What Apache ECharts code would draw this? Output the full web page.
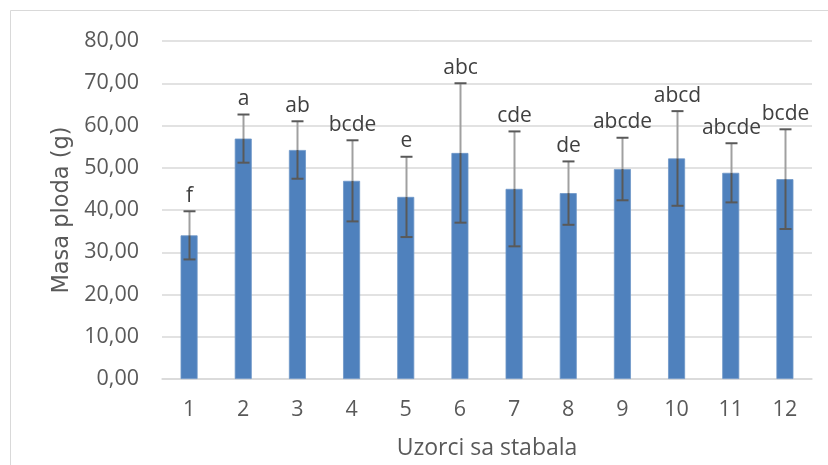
<!DOCTYPE html>
<html>
<head>
<meta charset="utf-8">
<script src="https://cdn.jsdelivr.net/npm/echarts@6/dist/echarts.min.js"></script>
<style>
html,body{margin:0;padding:0;background:#fff;}
#chart{width:828px;height:465px;}
</style>
</head>
<body>
<div id="chart"></div>
<script>
// Data
const categories = ['1','2','3','4','5','6','7','8','9','10','11','12'];
const means = [34.0, 56.9, 54.2, 46.9, 43.1, 53.5, 45.0, 44.0, 49.7, 52.2, 48.8, 47.3];
const sds   = [5.7, 5.7, 6.8, 9.6, 9.5, 16.5, 13.6, 7.5, 7.4, 11.2, 7.0, 11.8];
const letters = ['f','a','ab','bcde','e','abc','cde','de','abcde','abcd','abcde','bcde'];
const yMin = 0, yMax = 80, yStep = 10;

const FONT = '"Open Sans", "Noto Sans", sans-serif';
const errData = categories.map((c, i) => [i, means[i], sds[i]]);

const chart = echarts.init(document.getElementById('chart'));
chart.setOption({
  backgroundColor: '#ffffff',
  animation: false,
  graphic: [{
    type: 'rect',
    shape: { x: 10.5, y: 10.5, width: 900, height: 600 },
    style: { fill: 'none', stroke: '#d9d9d9', lineWidth: 1 },
    silent: true
  }],
  grid: { left: 162, right: 16, top: 41, bottom: 83.5 },
  xAxis: {
    type: 'category',
    data: categories,
    name: 'Uzorci sa stabala',
    nameLocation: 'middle',
    nameGap: 58,
    nameTextStyle: { fontFamily: FONT, fontSize: 23, color: '#595959' },
    axisLine: { lineStyle: { color: '#d9d9d9', width: 1.5 } },
    axisTick: { show: false },
    axisLabel: { fontFamily: FONT, fontSize: 21.5, color: '#595959', margin: 20 }
  },
  yAxis: {
    type: 'value',
    min: yMin, max: yMax, interval: yStep,
    name: 'Masa ploda (g)',
    nameLocation: 'middle',
    nameGap: 84,
    nameRotate: 90,
    nameTextStyle: { fontFamily: '"DejaVu Sans", sans-serif', fontSize: 22.5, color: '#595959' },
    axisLine: { show: false },
    axisTick: { show: false },
    splitLine: { lineStyle: { color: '#d9d9d9', width: 1.5 } },
    axisLabel: {
      fontFamily: FONT, fontSize: 21.5, color: '#595959', margin: 23,
      formatter: v => v.toFixed(2).replace('.', ',')
    }
  },
  series: [{
    type: 'bar',
    data: means,
    barWidth: 17,
    itemStyle: { color: '#4F81BD', borderColor: '#6f97c8', borderWidth: 0.8 }
  }, {
    type: 'custom',
    data: errData,
    z: 10,
    renderItem: function (params, api) {
      const x = api.value(0);
      const m = api.value(1);
      const s = api.value(2);
      const txt = letters[params.dataIndex];
      const top = api.coord([x, m + s]);
      const bot = api.coord([x, m - s]);
      const mid = api.coord([x, m]);
      const cx = Math.round(top[0]) + 0.5;
      const hw = 6;
      return {
        type: 'group',
        children: [
          { type: 'line', shape: { x1: cx, y1: top[1], x2: cx, y2: mid[1] },
            style: { stroke: '#a0a0a0', lineWidth: 2 } },
          { type: 'line', shape: { x1: cx, y1: mid[1], x2: cx, y2: bot[1] },
            style: { stroke: '#595959', lineWidth: 2 } },
          { type: 'line', shape: { x1: cx - hw, y1: top[1], x2: cx + hw, y2: top[1] },
            style: { stroke: '#595959', lineWidth: 2 } },
          { type: 'line', shape: { x1: cx - hw, y1: bot[1], x2: cx + hw, y2: bot[1] },
            style: { stroke: '#595959', lineWidth: 2 } },
          { type: 'text', x: cx, y: top[1] - 5,
            style: { text: txt, fontFamily: FONT, fontSize: 21, fill: '#404040',
                     align: 'center', verticalAlign: 'bottom' } }
        ]
      };
    }
  }]
});
</script>
</body>
</html>
